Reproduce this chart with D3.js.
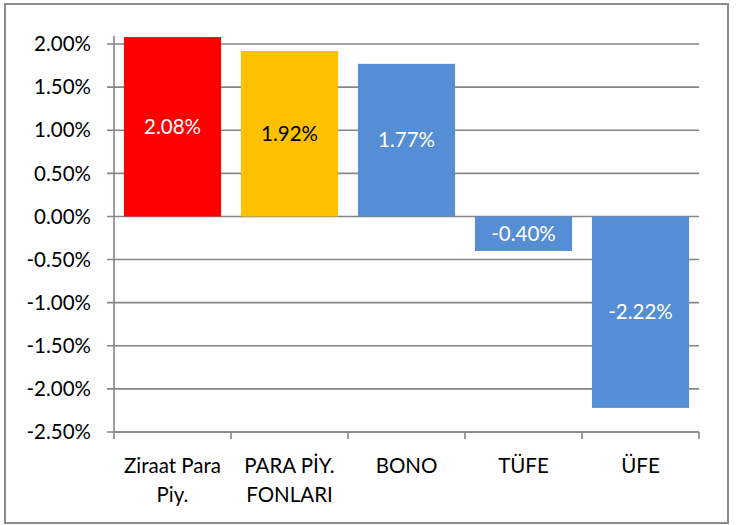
<!DOCTYPE html>
<html>
<head>
<meta charset="utf-8">
<script src="https://cdn.jsdelivr.net/npm/d3@7"></script>
<style>
  body { margin: 0; background: #fff; }
  text { font-family: Lato, "Open Sans", sans-serif; }
</style>
</head>
<body>
<svg id="chart" width="738" height="525"></svg>
<script>
// categories and returns (percent)
var categories = ["Ziraat Para Piy.", "PARA PİY. FONLARI", "BONO", "TÜFE", "ÜFE"];
var labelLines = [["Ziraat Para", "Piy."], ["PARA PİY.", "FONLARI"], ["BONO"], ["TÜFE"], ["ÜFE"]];
var values = [2.08, 1.92, 1.77, -0.40, -2.22];
var barColors = ["#FF0000", "#FFC000", "#558ED5", "#558ED5", "#558ED5"];
var textColors = ["#fff", "#000", "#fff", "#fff", "#fff"];
var yTicks = [2.0, 1.5, 1.0, 0.5, 0, -0.5, -1.0, -1.5, -2.0, -2.5];

var svg = d3.select("#chart");
var fs = 20.5;

// outer frame
svg.append("rect")
    .attr("x", 5).attr("y", 4)
    .attr("width", 723).attr("height", 519)
    .attr("fill", "#fff")
    .attr("stroke", "#8c8c8c")
    .attr("stroke-width", 2);

var plotL = 114, plotR = 699, plotT = 44, plotB = 432;

var y = d3.scaleLinear().domain([2.0, -2.5]).range([plotT, plotB]);
var x = d3.scaleBand().domain(categories).range([plotL, plotR]).paddingInner(0.17).paddingOuter(0.085);
var xTick = d3.scaleBand().domain(categories).range([plotL, plotR]);

// gridlines
svg.append("g").selectAll("line")
    .data(yTicks)
    .enter().append("line")
    .attr("x1", plotL - 7).attr("x2", plotR)
    .attr("y1", d => y(d)).attr("y2", d => y(d))
    .attr("stroke", "#868686")
    .attr("stroke-width", 1.6);

// y tick labels
svg.append("g").selectAll("text")
    .data(yTicks)
    .enter().append("text")
    .attr("x", 91)
    .attr("y", d => y(d))
    .attr("dy", "0.35em")
    .attr("text-anchor", "end")
    .attr("font-size", fs)
    .attr("fill", "#000")
    .text(d => d.toFixed(2) + "%");

// bars
svg.append("g").selectAll("rect")
    .data(values)
    .enter().append("rect")
    .attr("x", (d, i) => x(categories[i]))
    .attr("width", x.bandwidth())
    .attr("y", d => y(Math.max(0, d)))
    .attr("height", d => Math.abs(y(d) - y(0)))
    .attr("fill", (d, i) => barColors[i]);

// y axis line
svg.append("line")
    .attr("x1", plotL).attr("x2", plotL)
    .attr("y1", plotT - 8).attr("y2", plotB)
    .attr("stroke", "#868686").attr("stroke-width", 1.6);

// x axis line + ticks
svg.append("line")
    .attr("x1", plotL).attr("x2", plotR)
    .attr("y1", plotB).attr("y2", plotB)
    .attr("stroke", "#868686").attr("stroke-width", 1.6);

var tickXs = categories.map(c => xTick(c)).concat([plotR]);
svg.append("g").selectAll("line")
    .data(tickXs)
    .enter().append("line")
    .attr("x1", d => d).attr("x2", d => d)
    .attr("y1", plotB).attr("y2", plotB + 7)
    .attr("stroke", "#868686").attr("stroke-width", 1.6);

// value labels centred inside bars
svg.append("g").selectAll("text")
    .data(values)
    .enter().append("text")
    .attr("x", (d, i) => x(categories[i]) + x.bandwidth() / 2)
    .attr("y", d => (y(d) + y(0)) / 2)
    .attr("dy", "0.35em")
    .attr("text-anchor", "middle")
    .attr("font-size", fs)
    .attr("fill", (d, i) => textColors[i])
    .text(d => d.toFixed(2) + "%");

// category labels
var cat = svg.append("g").selectAll("text")
    .data(categories)
    .enter().append("text")
    .attr("x", d => xTick(d) + xTick.bandwidth() / 2)
    .attr("y", 473)
    .attr("text-anchor", "middle")
    .attr("font-size", fs)
    .attr("fill", "#000");

cat.selectAll("tspan")
    .data((d, i) => labelLines[i])
    .enter().append("tspan")
    .attr("x", function() { return d3.select(this.parentNode).attr("x"); })
    .attr("dy", (d, i) => i === 0 ? 0 : 28.5)
    .text(d => d);
</script>
</body>
</html>
